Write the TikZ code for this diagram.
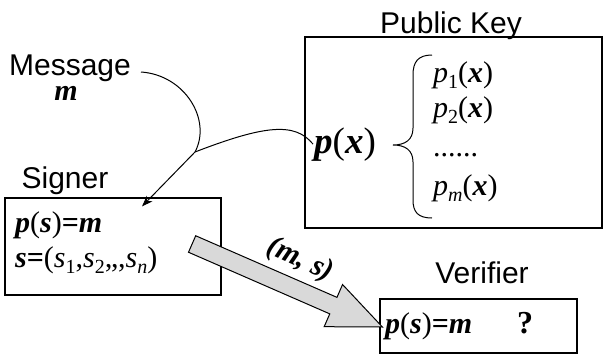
\documentclass[tikz,border=0pt]{standalone}
\usepackage{fontspec}
\setmainfont{Liberation Serif}
\newfontfamily\lsans{Liberation Sans}
\usetikzlibrary{calc,arrows.meta}
\definecolor{arrowgray}{RGB}{217,217,217}
\newcommand\bi[1]{\textbf{\textit{#1}}}
\newcommand\mysub[1]{\raisebox{-0.22em}{\fontsize{20}{20}\selectfont #1}}
\begin{document}
\begin{tikzpicture}[x=1pt,y=-1pt,
  box/.style={draw,line width=1.2pt,inner sep=0pt},
  label/.style={font=\lsans\fontsize{30}{30}\selectfont,inner sep=0pt,anchor=base},
  mtext/.style={font=\fontsize{30}{30}\selectfont,inner sep=0pt,anchor=base west},
  curve/.style={line width=1pt},
  fatarrow/.style={fill=arrowgray,draw,line width=1pt,line join=miter}]
\useasboundingbox (0,0) rectangle (603,364);
% boxes
\node[box,minimum width=216pt,minimum height=97pt] (signer) at (113,246.5) {};
\node[box,minimum width=297pt,minimum height=191pt] (pubkey) at (453.5,132.5) {};
\node[box,minimum width=197pt,minimum height=54pt] (verifier) at (478.5,326) {};
% labels
\node[label] (msglbl) at (70,75) {Message};
\node[label,font=\fontsize{30}{30}\selectfont] (msgm) at (66,100) {\bi{m}};
\node[label] (signerlbl) at (65,188) {Signer};
\node[label] (pklbl) at (451,33) {Public Key};
\node[label] (verlbl) at (482,283) {Verifier};
% public key contents
\node[mtext,font=\fontsize{37}{37}\selectfont] (px) at (314,153) {\bi{p}(\bi{x})};
\node[mtext] (p1) at (433,82) {\textit{p}\mysub{1}(\bi{x})};
\node[mtext] (p2) at (433,117) {\textit{p}\mysub{2}(\bi{x})};
\node[mtext] (pdots) at (433,156) {......};
\node[mtext] (pm) at (433,195) {\textit{p}\mysub{\textit{m}}(\bi{x})};
\draw[line width=1pt] (432,55) .. controls (418,55) and (413,62) .. (413,75) -- (413,128)
  .. controls (413,140) and (405,145) .. (393,145)
  .. controls (405,145) and (413,150) .. (413,162) -- (413,200)
  .. controls (413,212) and (418,218) .. (432,218);
% signer contents
\node[mtext] (sig1) at (15,232) {\bi{p}(\bi{s})\textbf{=}\bi{m}};
\node[mtext] (sig2) at (15,267) {\bi{s}\textbf{=}(\textit{s}\mysub{1},\textit{s}\mysub{2},,,\textit{s}\mysub{\textit{n}})};
% verifier contents
\node[mtext] (ver1) at (385,333) {\bi{p}(\bi{s})\textbf{=}\bi{m}};
\node[mtext,font=\fontsize{32}{32}\selectfont] (verq) at (517,333) {\textbf{?}};
% curves into signer
\coordinate (mstart) at (141,72);
\coordinate (join) at (195,152);
\coordinate (sigin) at ($(signer.north)+(29,9)$);
\draw[curve] (mstart) .. controls (185,75) and (212,120) .. (join);
\draw[curve] ($(px.west)+(-1,0)$) .. controls (295,122) and (265,125) .. (join);
\draw[curve,-{Stealth[length=11pt,width=8pt]}] (join) -- (sigin);
% fat arrow signer -> verifier
\coordinate (tail) at ($(signer.east)+(-29.5,-2.5)$);
\coordinate (tip) at ($(verifier.west)+(3,1)$);
\coordinate (hb) at ($(tip)!53.5pt!(tail)$);
\draw[fatarrow] ($(tail)!9pt!90:(tip)$) -- ($(hb)!9pt!90:(tip)$) -- ($(hb)!23pt!90:(tip)$)
  -- (tip) -- ($(hb)!23pt!-90:(tip)$) -- ($(hb)!9pt!-90:(tip)$) -- ($(tail)!9pt!-90:(tip)$) -- cycle;
\node[font=\fontsize{30}{30}\selectfont,inner sep=0pt,rotate=-24] (ms) at (300,260) {\bi{(m, s)}};
\end{tikzpicture}
\end{document}
